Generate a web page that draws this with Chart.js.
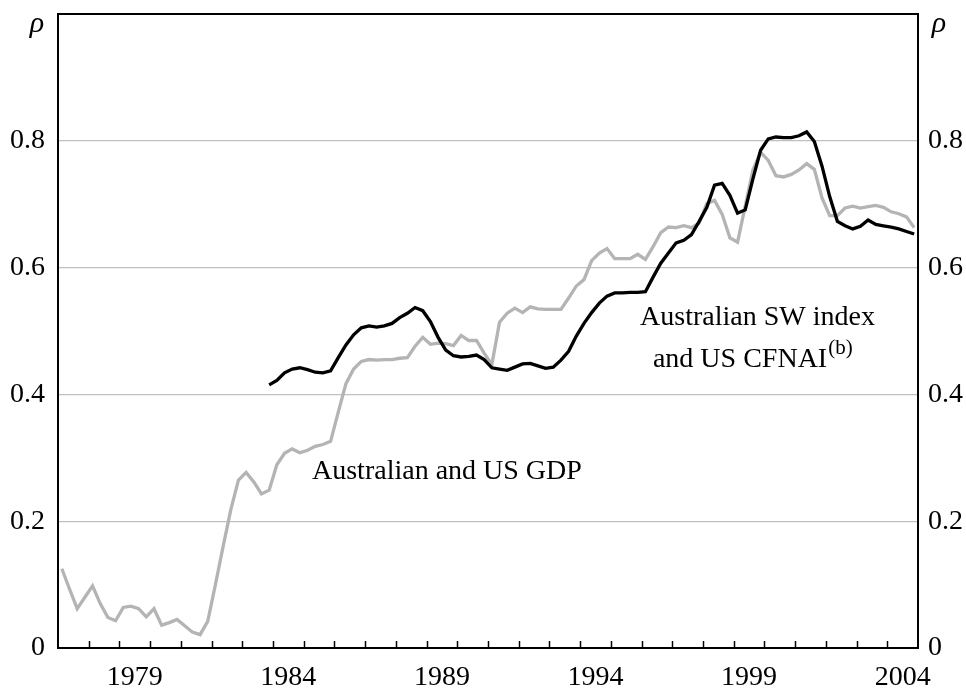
<!DOCTYPE html>
<html><head><meta charset="utf-8">
<script src="https://cdn.jsdelivr.net/npm/chart.js@4.4.1/dist/chart.umd.min.js"></script>
<style>html,body{margin:0;padding:0;background:#fff;} #wrap{width:966px;height:689px;position:relative;}</style>
</head><body><div id="wrap"><canvas id="c" width="966" height="689"></canvas></div>
<script>
// Quarterly correlation estimates (rho)
const gdpStart = [1977, 1];   // year, quarter of first value
const gdpValues = [
  0.125,0.093,0.062,0.080, 0.098,0.070,0.048,0.043, 0.064,0.066,0.062,0.049,
  0.062,0.036,0.040,0.045, 0.035,0.025,0.021,0.042, 0.100,0.160,0.218,0.265,
  0.277,0.262,0.243,0.249, 0.289,0.307,0.314,0.308, 0.312,0.318,0.321,0.326,
  0.372,0.417,0.440,0.452, 0.455,0.454,0.455,0.455, 0.457,0.458,0.476,0.490,
  0.479,0.481,0.480,0.477, 0.493,0.485,0.485,0.465, 0.447,0.514,0.528,0.536,
  0.529,0.538,0.535,0.534, 0.534,0.534,0.552,0.571, 0.581,0.611,0.623,0.630,
  0.614,0.614,0.614,0.621, 0.613,0.633,0.655,0.664, 0.663,0.666,0.663,0.670,
  0.701,0.706,0.684,0.647, 0.640,0.697,0.754,0.782, 0.769,0.745,0.743,0.747,
  0.754,0.764,0.755,0.710, 0.682,0.682,0.694,0.697, 0.694,0.696,0.698,0.695,
  0.688,0.685,0.680,0.663
];
const swStart = [1983, 4];
const swValues = [
  0.415,
  0.422,0.434,0.440,0.442, 0.439,0.435,0.434,0.437, 0.458,0.478,0.494,0.505,
  0.508,0.506,0.508,0.512, 0.521,0.528,0.537,0.532, 0.515,0.490,0.470,0.461,
  0.459,0.460,0.462,0.455, 0.442,0.440,0.438,0.443, 0.448,0.449,0.445,0.441,
  0.443,0.454,0.468,0.492, 0.512,0.529,0.544,0.555, 0.560,0.560,0.561,0.561,
  0.562,0.585,0.607,0.623, 0.639,0.643,0.652,0.673, 0.695,0.730,0.733,0.714,
  0.686,0.691,0.740,0.785, 0.803,0.806,0.805,0.805, 0.808,0.814,0.799,0.760,
  0.712,0.673,0.666,0.661, 0.665,0.675,0.668,0.666, 0.664,0.661,0.657,0.653
];
const xTickLabels = ['1979','1984','1989','1994','1999','2004'];
const yTickValues = [0, 0.2, 0.4, 0.6, 0.8];
const yTickLabels = ['0','0.2','0.4','0.6','0.8'];
const xRange = [1977, 2005];
const yRange = [0, 1];
const axisSymbol = 'ρ';

function toPoints(start, vals) {
  return vals.map((v, i) => {
    const q = (start[1] - 1) + i;
    return { x: start[0] + (q + 0.5) / 4, y: v };
  });
}

const FONT = '"Liberation Serif", "Times New Roman", serif';

const framePlugin = {
  id: 'frame',
  afterDraw(chart) {
    const { ctx, chartArea: a, scales } = chart;
    const xs = scales.x, ys = scales.y;
    ctx.save();
    // year tick marks pointing up from the bottom axis
    ctx.strokeStyle = '#000';
    ctx.lineWidth = 1.5;
    for (let yr = xRange[0] + 1; yr < xRange[1]; yr++) {
      const px = Math.round(xs.getPixelForValue(yr)) + 0.5;
      ctx.beginPath();
      ctx.moveTo(px, a.bottom);
      ctx.lineTo(px, a.bottom - 7);
      ctx.stroke();
    }
    // frame
    ctx.lineWidth = 2;
    ctx.strokeRect(a.left, a.top, a.right - a.left, a.bottom - a.top);

    // annotations
    ctx.fillStyle = '#000';
    ctx.textBaseline = 'alphabetic';
    ctx.textAlign = 'left';
    ctx.font = '28px ' + FONT;
    ctx.fillText('Australian and US GDP', xs.getPixelForValue(1985.27), ys.getPixelForValue(0.2666));
    ctx.fillText('Australian SW index', xs.getPixelForValue(1995.95), ys.getPixelForValue(0.5095));
    const x2 = xs.getPixelForValue(1996.37), y2 = ys.getPixelForValue(0.443);
    const t2 = 'and US CFNAI';
    ctx.fillText(t2, x2, y2);
    const w2 = ctx.measureText(t2).width;
    ctx.font = '21px ' + FONT;
    ctx.fillText('(b)', x2 + w2 + 1, y2 - 13);

    // rho symbols
    ctx.font = 'italic 30px ' + FONT;
    ctx.textAlign = 'center';
    ctx.fillText(axisSymbol, a.left - 21, a.top + 18);
    ctx.fillText(axisSymbol, a.right + 21, a.top + 18);
    ctx.restore();
  }
};

const tickFont = { family: FONT, size: 28 };

function fitY(width) {
  return function (scale) {
    scale.width = width;
    scale.paddingTop = 0;
    scale.paddingBottom = 0;
  };
}

new Chart(document.getElementById('c'), {
  type: 'line',
  data: {
    datasets: [
      {
        label: 'Australian SW index and US CFNAI',
        data: toPoints(swStart, swValues),
        borderColor: '#000000',
        borderWidth: 3.3,
        pointRadius: 0,
        tension: 0,
        fill: false
      },
      {
        label: 'Australian and US GDP',
        data: toPoints(gdpStart, gdpValues),
        borderColor: '#b4b4b4',
        borderWidth: 3.3,
        pointRadius: 0,
        tension: 0,
        fill: false
      }
    ]
  },
  options: {
    responsive: false,
    devicePixelRatio: 1,
    animation: false,
    layout: { padding: { top: 14, left: 0, right: 0, bottom: 0 } },
    plugins: { legend: { display: false }, tooltip: { enabled: false } },
    scales: {
      x: {
        type: 'linear',
        min: xRange[0], max: xRange[1],
        afterBuildTicks(scale) {
          scale.ticks = xTickLabels.map(l => ({ value: Number(l) + 0.5 }));
        },
        afterFit(scale) { scale.height = 41; scale.paddingLeft = 0; scale.paddingRight = 0; },
        grid: { display: false, drawTicks: false },
        border: { display: false },
        ticks: {
          autoSkip: false, maxRotation: 0, padding: 13,
          color: '#000', font: tickFont,
          callback: (v, i) => xTickLabels[i]
        }
      },
      y: {
        type: 'linear', position: 'left',
        min: yRange[0], max: yRange[1],
        afterBuildTicks(scale) { scale.ticks = yTickValues.map(v => ({ value: v })); },
        afterFit: fitY(58),
        grid: { color: '#c0c0c0', lineWidth: 1.3, drawTicks: false },
        border: { display: false },
        ticks: { padding: 13, color: '#000', font: tickFont, callback: (v, i) => yTickLabels[i] }
      },
      y2: {
        type: 'linear', position: 'right',
        min: yRange[0], max: yRange[1],
        afterBuildTicks(scale) { scale.ticks = yTickValues.map(v => ({ value: v })); },
        afterFit: fitY(48),
        grid: { display: false, drawTicks: false },
        border: { display: false },
        ticks: { padding: 10, color: '#000', font: tickFont, callback: (v, i) => yTickLabels[i] }
      }
    }
  },
  plugins: [framePlugin]
});
</script>
</body></html>
